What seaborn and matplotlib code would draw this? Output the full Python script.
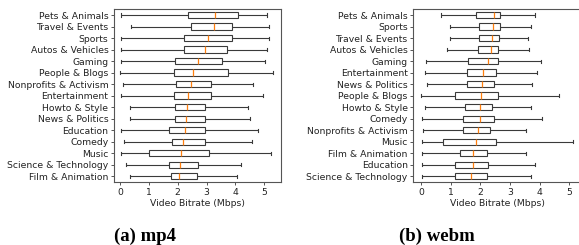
import numpy as np
import pandas as pd
import matplotlib
matplotlib.use("Agg")
import matplotlib.pyplot as plt
import seaborn as sns

# ---- mp4 panel (five-number summaries, Mbps) ----
mp4_cats = ["Pets & Animals", "Travel & Events", "Sports", "Autos & Vehicles", "Gaming",
            "People & Blogs", "Nonprofits & Activism", "Entertainment", "Howto & Style",
            "News & Politics", "Education", "Comedy", "Music", "Science & Technology",
            "Film & Animation"]
mp4_lo = [0.04, 0.37, 0.02, 0.04, 0.02, 0.00, 0.09, 0.04, 0.33, 0.33, 0.02, 0.13, 0.02, 0.21, 0.35]
mp4_q1 = [2.34, 2.47, 2.23, 2.23, 1.92, 1.86, 1.94, 1.88, 1.92, 1.92, 1.71, 1.81, 1.02, 1.71, 1.76]
mp4_med = [3.30, 3.26, 3.06, 2.93, 2.69, 2.54, 2.47, 2.34, 2.31, 2.29, 2.26, 2.18, 2.11, 2.09, 2.06]
mp4_q3 = [4.10, 3.89, 3.89, 3.72, 3.55, 3.75, 3.15, 3.15, 2.96, 2.96, 2.96, 2.93, 3.09, 2.71, 2.66]
mp4_hi = [5.10, 5.17, 5.18, 5.10, 5.02, 5.29, 4.60, 4.97, 4.42, 4.50, 4.77, 4.56, 5.22, 4.19, 4.04]

# ---- webm panel ----
webm_cats = ["Pets & Animals", "Sports", "Travel & Events", "Autos & Vehicles", "Gaming",
             "Entertainment", "News & Politics", "People & Blogs", "Howto & Style", "Comedy",
             "Nonprofits & Activism", "Music", "Film & Animation", "Education",
             "Science & Technology"]
webm_lo = [0.67, 0.96, 0.98, 0.88, 0.16, 0.13, 0.19, 0.00, 0.15, 0.02, 0.06, 0.02, 0.02, 0.02, 0.02]
webm_q1 = [1.86, 1.96, 1.96, 1.91, 1.59, 1.55, 1.55, 1.15, 1.49, 1.40, 1.41, 0.74, 1.31, 1.16, 1.16]
webm_med = [2.46, 2.44, 2.40, 2.35, 2.25, 2.08, 2.04, 2.02, 1.99, 1.99, 1.93, 1.85, 1.74, 1.74, 1.69]
webm_q3 = [2.66, 2.66, 2.64, 2.61, 2.59, 2.51, 2.45, 2.59, 2.38, 2.47, 2.34, 2.51, 2.21, 2.26, 2.21]
webm_hi = [3.84, 3.69, 3.61, 3.65, 4.03, 3.92, 3.74, 4.65, 3.69, 4.08, 3.55, 5.12, 3.53, 3.84, 3.69]

xlabel = "Video Bitrate (Mbps)"
captions = ["(a) mp4", "(b) webm"]


def to_long(cats, lo, q1, med, q3, hi):
    rows = []
    for c, a, b, m, d, e in zip(cats, lo, q1, med, q3, hi):
        for v in (a, b, m, d, e):
            rows.append({"cat": c, "val": v})
    return pd.DataFrame(rows)


df_mp4 = to_long(mp4_cats, mp4_lo, mp4_q1, mp4_med, mp4_q3, mp4_hi)
df_webm = to_long(webm_cats, webm_lo, webm_q1, webm_med, webm_q3, webm_hi)

W, H = 579, 245
fig = plt.figure(figsize=(W / 100, H / 100), dpi=100)
plt.rcParams["font.family"] = ["DejaVu Sans"]

ax1 = fig.add_axes([114 / W, 1 - 182 / H, (280.7 - 114) / W, (182 - 9.3) / H])
ax2 = fig.add_axes([413.3 / W, 1 - 182 / H, (581 - 413.3) / W, (182 - 9.3) / H])

line_c = "#3a3a3a"
fs = 6.7
for ax, df, cats, xl in [(ax1, df_mp4, mp4_cats, (-0.21, 5.57)),
                         (ax2, df_webm, webm_cats, (-0.26, 5.39))]:
    sns.boxplot(data=df, x="val", y="cat", order=cats, ax=ax, whis=(0, 100),
                width=0.55, color="white", linecolor=line_c, linewidth=0.8,
                showfliers=False,
                medianprops=dict(color="#ff7f0e", linewidth=0.9))
    ax.set_xlim(*xl)
    ax.set_xticks([0, 1, 2, 3, 4, 5])
    ax.set_xlabel(xlabel, fontsize=fs, color="#222222", labelpad=1.5)
    ax.set_ylabel("")
    ax.tick_params(axis="both", labelsize=fs, length=2.5, width=0.6,
                   color=line_c, labelcolor="#222222", pad=1.5)
    for s in ax.spines.values():
        s.set_color("#555555")
        s.set_linewidth(0.8)

fig.text(145 / W, 1 - 236 / H, captions[0], ha="center", va="center",
         fontsize=13.5, fontweight="bold", family=["Liberation Serif"])
fig.text(437 / W, 1 - 236 / H, captions[1], ha="center", va="center",
         fontsize=13.5, fontweight="bold", family=["Liberation Serif"])

fig.savefig("out.png", dpi=100)
